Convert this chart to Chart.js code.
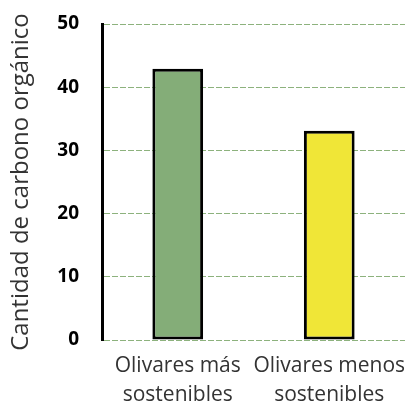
<!DOCTYPE html>
<html><head><meta charset="utf-8">
<script src="https://cdn.jsdelivr.net/npm/chart.js@4"></script>
<style>html,body{margin:0;padding:0;background:#fff}#wrap{width:405px;height:401px}</style>
</head><body><div id="wrap"><canvas id="c"></canvas></div>
<script>
const categories = [['Olivares más','sostenibles'],['Olivares menos','sostenibles']];
const values = [42.9, 33.1];
const barColors = ['#84ad78','#f0e637'];
const yTicks = [0,10,20,30,40,50];
const yTitle = 'Cantidad de carbono orgánico';

new Chart(document.getElementById('c'), {
  type: 'bar',
  data: {
    labels: categories,
    datasets: [{
      data: values,
      backgroundColor: barColors,
      borderColor: '#000',
      borderWidth: 3,
      borderSkipped: false,
      barPercentage: 0.67,
      categoryPercentage: 0.5
    }]
  },
  options: {
    responsive: true,
    maintainAspectRatio: false,
    animation: false,
    layout: { padding: { top: 24, right: 0, left: 0, bottom: 0 } },
    plugins: { legend: { display: false }, tooltip: { enabled: false } },
    scales: {
      x: {
        grid: { display: false },
        border: { display: false },
        ticks: { color: '#333', font: { family: 'Open Sans', size: 21, lineHeight: 1.4 }, padding: 3, maxRotation: 0, autoSkip: false },
        afterFit: s => { s.height = 61; s.paddingLeft = 0; s.paddingRight = 0; }
      },
      y: {
        min: 0, max: 50,
        afterBuildTicks: s => { s.ticks = yTicks.map(v => ({ value: v })); },
        ticks: { color: '#000', font: { family: 'Open Sans', size: 19, weight: 'bold' }, padding: 1 },
        grid: { color: '#8db27d', lineWidth: 1, drawTicks: true, tickLength: 22, tickColor: 'rgba(0,0,0,0)' },
        border: { color: '#000', width: 3, dash: [6, 2] },
        title: { display: true, text: yTitle, color: '#333', font: { family: 'Open Sans', size: 24 }, padding: { top: 7, bottom: 0 } },
        afterFit: s => { s.width = 102; }
      }
    }
  }
});
</script></body></html>
